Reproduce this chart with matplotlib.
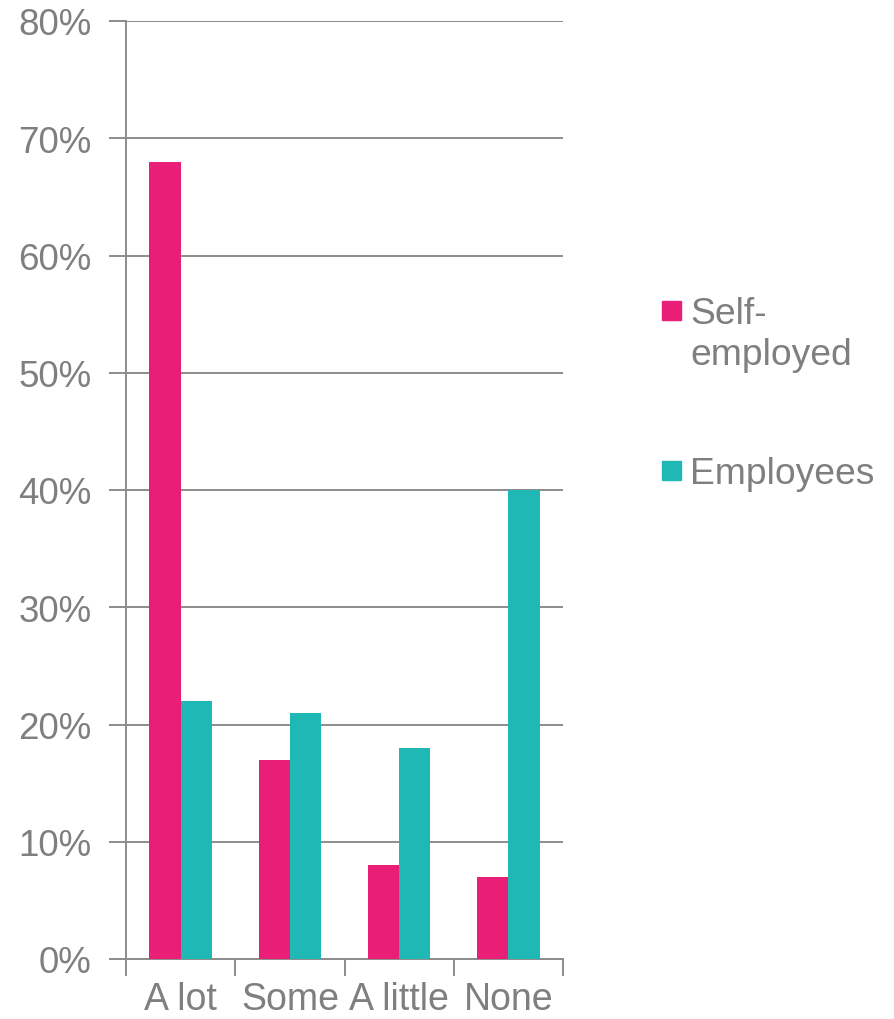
import matplotlib
matplotlib.use("Agg")
import matplotlib.pyplot as plt
from matplotlib.patches import Rectangle
from matplotlib.ticker import FixedLocator, PercentFormatter
import numpy as np

categories = ["A lot", "Some", "A little", "None"]
series_names = ["Self-\nemployed", "Employees"]
self_employed = [68, 17, 8, 7]
employees = [22, 21, 18, 40]
series_colors = ["#E91E76", "#1FB8B4"]
y_ticks = [0, 10, 20, 30, 40, 50, 60, 70, 80]

plt.rcParams["font.family"] = ["Liberation Sans", "DejaVu Sans"]
text_color = "#7F7F7F"
line_color = "#8C8C8C"

fig = plt.figure(figsize=(8.94, 10.2), dpi=100)
ax = fig.add_axes([126 / 894, 1 - 960 / 1020, (563 - 126) / 894, (960 - 22) / 1020])

x = np.arange(len(categories))
w = 0.285
ax.bar(x - w / 2, self_employed, width=w, color=series_colors[0], zorder=3)
ax.bar(x + w / 2, employees, width=w, color=series_colors[1], zorder=3)

ax.set_xlim(-0.5, len(categories) - 0.5)
ax.set_ylim(0, 80)
ax.set_yticks(y_ticks)
ax.yaxis.set_major_formatter(PercentFormatter(decimals=0))
ax.yaxis.grid(True, color=line_color, linewidth=1.4, zorder=0)

ax.set_xticks(x)
ax.set_xticklabels(categories)
ax.xaxis.set_minor_locator(FixedLocator(np.arange(-0.5, len(categories), 1.0)))
ax.tick_params(axis="x", which="major", length=0, pad=16, labelsize=27,
               labelcolor=text_color)
ax.tick_params(axis="x", which="minor", length=12, width=1.4, color=line_color)
ax.tick_params(axis="y", length=12, width=1.4, color=line_color, pad=13,
               labelsize=26.5, labelcolor=text_color)

for side in ["top", "right"]:
    ax.spines[side].set_visible(False)
for side in ["left", "bottom"]:
    ax.spines[side].set_color(line_color)
    ax.spines[side].set_linewidth(1.4)

# legend drawn by hand so the swatch sits on the first text line
legend_rows = [(series_names[0], series_colors[0], 302), (series_names[1], series_colors[1], 462)]
for label, color, top in legend_rows:
    fig.add_artist(Rectangle((662 / 894, 1 - (top + 19) / 1020), 19 / 894, 19 / 1020,
                             transform=fig.transFigure, color=color))
    fig.text(690 / 894, 1 - (top - 5) / 1020, label, ha="left", va="top",
             fontsize=26.8, color=text_color, linespacing=1.22)

fig.savefig("out.png", dpi=100)
